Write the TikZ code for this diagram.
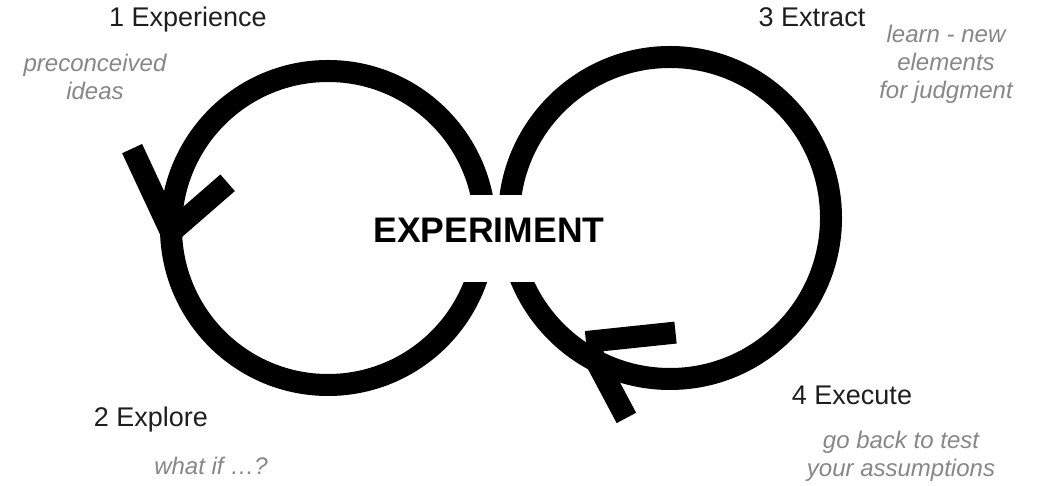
\documentclass[tikz,border=0pt]{standalone}
\usepackage{fontspec}
\setmainfont{Liberation Sans}
\definecolor{ink}{RGB}{30,30,30}
\definecolor{note}{RGB}{135,135,135}
\tikzset{
  loopline/.style={draw=black,line width=22pt},
  barb/.style={draw=black,line width=22pt},
  hub/.style={font=\fontsize{35.5}{40}\selectfont\bfseries,fill=white,inner xsep=4pt,inner ysep=0pt,text height=48pt,text depth=39pt,anchor=base},
  stage/.style={font=\fontsize{27}{32}\selectfont,text=ink,inner sep=0pt,anchor=base},
  remark/.style={font=\fontsize{24}{28}\selectfont\itshape,text=note,align=center,inner sep=0pt,anchor=base},
}

\begin{document}
\begin{tikzpicture}[x=1pt,y=1pt]
 \useasboundingbox (0,0) rectangle (1043,486);
 % the two loops
 \coordinate (lc) at (328,258);
 \coordinate (rc) at (670,268);
 \draw[loopline] (lc) circle[radius=157pt];
 \draw[loopline] (rc) circle[radius=161pt];
 % arrow heads
 \coordinate (lt) at (171,254);
 \coordinate (rt) at (586,144);
 \draw[barb] (lt) -- ++(115:92);
 \draw[barb] (lt) -- ++(41:75);
 \draw[barb] (rt) -- ++(6:90);
 \draw[barb] (rt) -- ++(-62:86);
 \node[hub] (exp) at (489,243) {EXPERIMENT};
 % stages
 \node[stage] (s1) at (188,459) {1 Experience};
 \node[stage] (s2) at (151,59) {2 Explore};
 \node[stage] (s3) at (812,459) {3 Extract};
 \node[stage] (s4) at (852,81) {4 Execute};
 % baseline of the last line
 \node[remark] (r1) at (95,386) {preconceived\\ideas};
 \node[remark] (r2) at (946,387) {learn - new\\elements\\for judgment};
 \node[remark] (r3) at (211,11) {what if …?};
 \node[remark] (r4) at (901,9) {go back to test\\your assumptions};
\end{tikzpicture}
\end{document}
